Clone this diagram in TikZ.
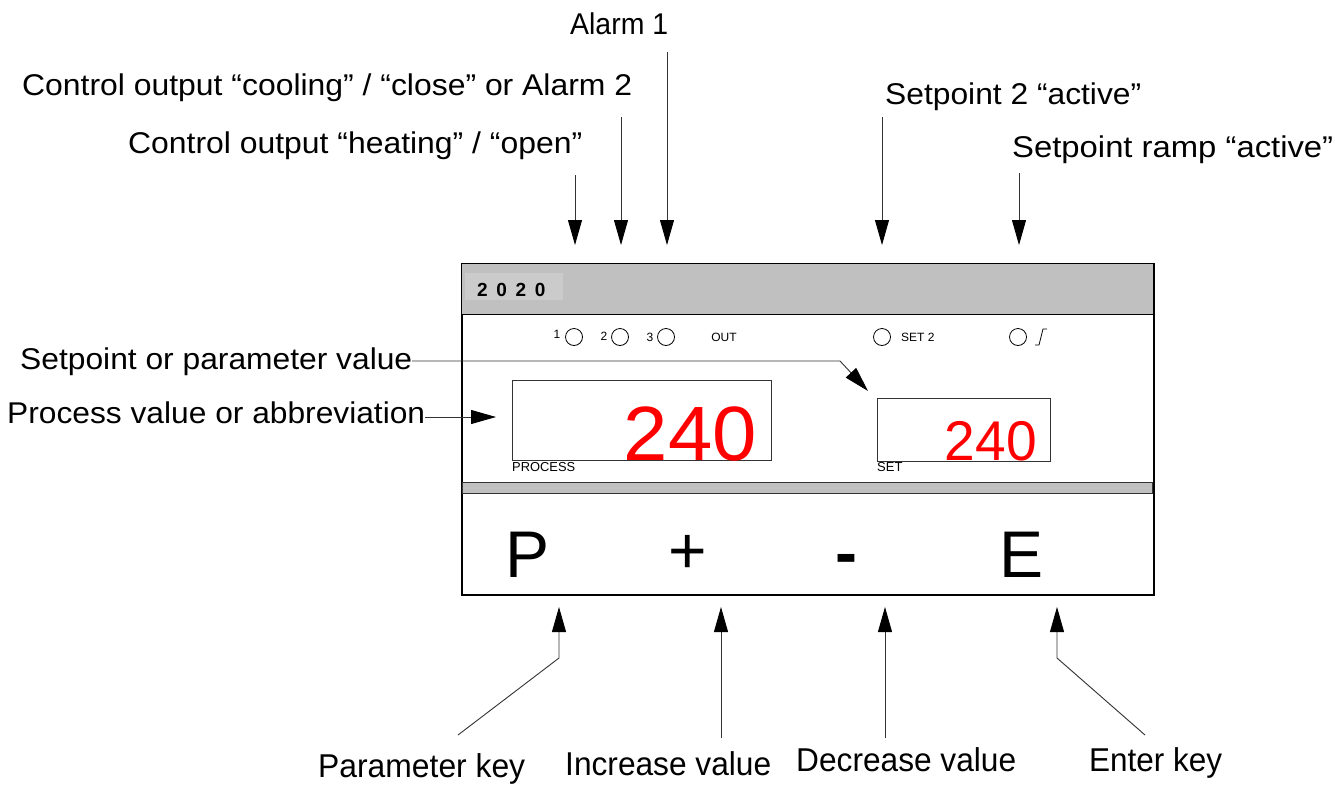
\documentclass[tikz,border=0pt]{standalone}
\usepackage{fontspec}
\setmainfont{Liberation Sans}
\usetikzlibrary{arrows.meta}
\newcommand\fitto[2]{\resizebox{#1}{\height}{#2}}
\definecolor{panelgray}{HTML}{C0C0C0}
\definecolor{taggray}{HTML}{CBCBCB}
\definecolor{linegray}{HTML}{333333}
\begin{document}
\begin{tikzpicture}[x=1pt,y=-1pt,
  lbl/.style={inner sep=0pt, anchor=base west, font=\fontsize{30}{36}\selectfont},
  blbl/.style={inner sep=0pt, anchor=base west, font=\fontsize{33}{40}\selectfont},
  arr/.style={draw=linegray, line width=0.9pt, -{Triangle[length=25pt,width=14pt,color=black]}},
  tiny/.style={inner sep=0pt, font=\fontsize{12}{14}\selectfont},
  led/.style={circle, draw, line width=0.8pt, minimum size=17pt, inner sep=0pt},
  keych/.style={inner sep=0pt, font=\fontsize{66}{70}\selectfont},
  disp/.style={draw=linegray, line width=1.1pt, inner sep=0pt, anchor=north west},
  digits/.style={inner sep=0pt, anchor=base east, text=red}
]
\useasboundingbox (0,0) rectangle (1335,785);

% ---- panel ----
\node[draw, line width=1.5pt, fill=white, inner sep=0pt, anchor=north west,
      minimum width=692pt, minimum height=331pt] (panel) at (461,263) {};
\node[draw, line width=1.2pt, fill=panelgray, inner sep=0pt, anchor=north west,
      minimum width=692pt, minimum height=51pt] (header) at (461,263) {};
\node[fill=taggray, inner sep=0pt, anchor=north west,
      minimum width=98pt, minimum height=27pt] (tag) at (465,273) {};
\node[inner sep=0pt, anchor=base west, font=\fontsize{19}{22}\selectfont\bfseries] (tagtext) at (477,296)
  {2\hspace{8.7pt}0\hspace{8.7pt}2\hspace{8.7pt}0};

% LEDs
\node[led] (led1) at (574,337) {};
\node[led] (led2) at (620,337) {};
\node[led] (led3) at (666,337) {};
\node[led] (ledset) at (882,337) {};
\node[led] (ledramp) at (1018,337) {};
\node[tiny] (n1) at (557,334) {1};
\node[tiny] (n2) at (604,336) {2};
\node[tiny] (n3) at (650,337) {3};
\node[tiny] (out) at (724,337) {OUT};
\node[tiny, anchor=west] (set2) at (901,337) {SET 2};
\draw[line width=0.8pt] (1035,345) -- (1039,345) -- (1043,329) -- (1047,329);

% displays
\node[disp, minimum width=259pt, minimum height=80pt] (pv) at (512,380) {};
\node[digits, font=\fontsize{77}{80}\selectfont] (pvval) at (757,460) {\fitto{133pt}{240}};
\node[inner sep=0pt, anchor=base west, font=\fontsize{13}{15}\selectfont] (pvlbl) at (512,471) {\fitto{63pt}{PROCESS}};
\node[disp, minimum width=173pt, minimum height=63pt] (sv) at (877,398) {};
\node[digits, font=\fontsize{56}{60}\selectfont] (svval) at (1037,460) {\fitto{92pt}{240}};
\node[inner sep=0pt, anchor=base west, font=\fontsize{13}{15}\selectfont] (svlbl) at (877,471) {SET};

% gray strip
\node[draw=linegray, line width=1pt, fill=panelgray, inner sep=0pt, anchor=north west,
      minimum width=690pt, minimum height=11pt] (strip) at (462,482) {};

% keys
\node[keych, anchor=base] (keyP) at (528,577) {P};
\node[keych, anchor=center] (keyPlus) at (688,554) {+};
\node[keych, anchor=base, font=\fontsize{66}{70}\selectfont\bfseries] (keyMinus) at (846,575) {-};
\node[keych, anchor=base] (keyE) at (1021,577) {E};

% ---- top labels ----
\node[lbl] (alarm1) at (570,34) {\fitto{98pt}{Alarm 1}};
\node[lbl] (cooling) at (22,95) {\fitto{610pt}{Control output “cooling” / “close” or Alarm 2}};
\node[lbl] (heating) at (128,153) {\fitto{454pt}{Control output “heating” / “open”}};
\node[lbl] (sp2) at (885,104) {\fitto{256pt}{Setpoint 2 “active”}};
\node[lbl] (ramp) at (1012,157) {\fitto{321pt}{Setpoint ramp “active”}};

\coordinate (heatS) at (575,175);  \coordinate (heatT) at (575,245);
\coordinate (coolS) at (621,117);  \coordinate (coolT) at (621,245);
\coordinate (al1S) at (667,52);    \coordinate (al1T) at (667,245);
\coordinate (sp2S) at (882,117);   \coordinate (sp2T) at (882,245);
\coordinate (rampS) at (1019,173); \coordinate (rampT) at (1019,245);
\draw[arr] (heatS) -- (heatT);
\draw[arr] (coolS) -- (coolT);
\draw[arr] (al1S) -- (al1T);
\draw[arr] (sp2S) -- (sp2T);
\draw[arr] (rampS) -- (rampT);

% ---- left labels ----
\node[lbl] (spval) at (20,369) {\fitto{392pt}{Setpoint or parameter value}};
\node[lbl] (pvtxt) at (7,423) {\fitto{418pt}{Process value or abbreviation}};
\coordinate (spS) at (412,361);
\coordinate (spB) at (840,361);
\coordinate (spT) at (868,391);
\draw[arr] (spS) -- (spB) -- (spT);
\coordinate (pvS) at (425,417);
\coordinate (pvT) at (496,417);
\draw[arr] (pvS) -- (pvT);

% ---- bottom labels ----
\node[blbl] (parkey) at (318,777) {\fitto{207pt}{Parameter key}};
\node[blbl] (incr) at (565,775) {\fitto{206pt}{Increase value}};
\node[blbl] (decr) at (796,771) {\fitto{220pt}{Decrease value}};
\node[blbl] (enter) at (1089,771) {\fitto{133pt}{Enter key}};

\coordinate (pF) at (458,735);  \coordinate (pB) at (559,658);  \coordinate (pT) at (559,607);
\coordinate (iF) at (721,738);  \coordinate (iT) at (721,607);
\coordinate (dF) at (885,738);  \coordinate (dT) at (885,607);
\coordinate (eF) at (1145,735); \coordinate (eB) at (1057,658); \coordinate (eT) at (1057,607);
\draw[arr] (pF) -- (pB) -- (pT);
\draw[arr] (iF) -- (iT);
\draw[arr] (dF) -- (dT);
\draw[arr] (eF) -- (eB) -- (eT);
\end{tikzpicture}
\end{document}
